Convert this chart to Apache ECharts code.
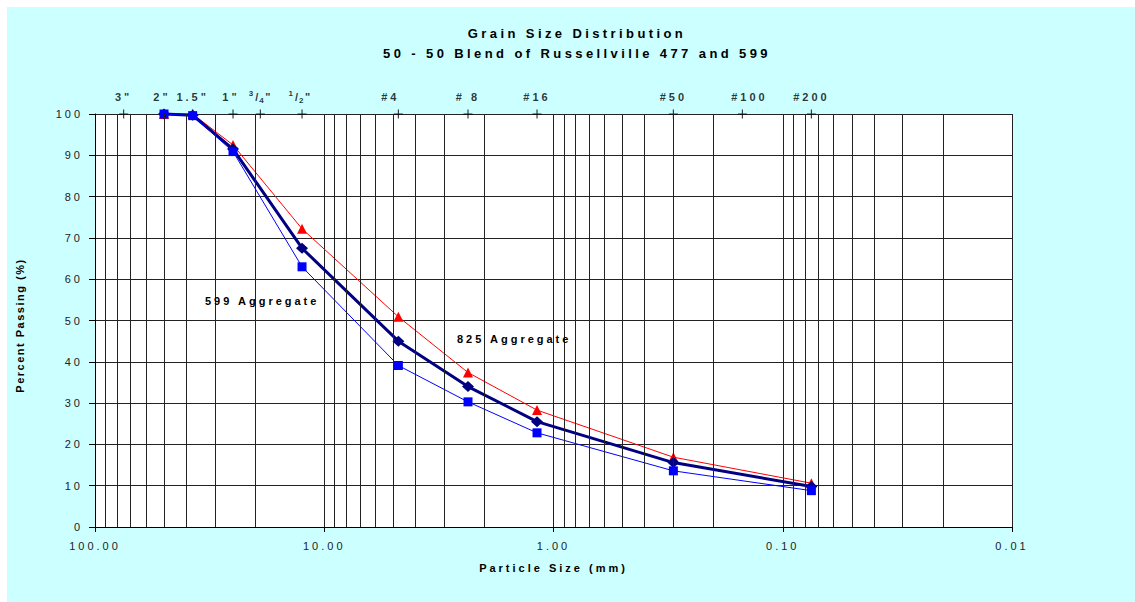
<!DOCTYPE html>
<html>
<head>
<meta charset="utf-8">
<script src="https://cdn.jsdelivr.net/npm/echarts@6/dist/echarts.min.js"></script>
<style>
html,body{margin:0;padding:0;background:#fff;}
#chart{width:1135px;height:602px;}
</style>
</head>
<body>
<div id="chart"></div>
<script>
// ---- data ----
const sieveSizesMM = [75, 50, 37.5, 25, 19, 12.5, 4.75, 2.36, 1.18, 0.3, 0.15, 0.075];
const sieveLabels = ['3"', '2"', '1.5"', '1"', '3/4"', '1/2"', '#4', '# 8', '#16', '#50', '#100', '#200'];
const testSizesMM = [50, 37.5, 25, 12.5, 4.75, 2.36, 1.18, 0.3, 0.075];
const passing825 = [100, 100, 92.5, 72.2, 50.9, 37.4, 28.3, 16.9, 10.6];
const passing599 = [100, 99.6, 90.9, 63.0, 39.1, 30.3, 22.8, 13.6, 8.8];
const passingBlend = [100, 99.7, 91.5, 67.5, 45.0, 34.0, 25.5, 15.6, 9.8];
const minorGridMM = [90, 80, 70, 60, 50, 40, 30, 20,
                     9, 8, 7, 6, 5, 4, 3, 2,
                     0.9, 0.8, 0.7, 0.6, 0.5, 0.4, 0.3, 0.2,
                     0.09, 0.08, 0.07, 0.06, 0.05, 0.04, 0.03, 0.02];
const titleLines = ['Grain Size Distribution', '50 - 50 Blend of Russellville 477 and 599'];
const xAxisName = 'Particle Size (mm)';
const yAxisName = 'Percent Passing (%)';
const annotations = ['599 Aggregate', '825 Aggregate'];

// ---- chart ----
const FONT = '"Liberation Sans", Arial, sans-serif';
const GRID_COLOR = '#222';
const chart = echarts.init(document.getElementById('chart'), null, {renderer: 'svg'});

const labelNudge = {'#4': -8, '#100': 7, '2"': -2, '1"': -2, '1/2"': -2};

function sieveLabelFmt(s) {
  const m = /^(\d)\/(\d)(.*)$/.exec(s);
  if (m) return '{sup|' + m[1] + '}{sl|/}{sub|' + m[2] + '}{n|' + m[3] + '}';
  return '{n|' + s + '}';
}

function pairs(xs, ys) { return xs.map((x, i) => [x, ys[i]]); }

const option = {
  animation: false,
  backgroundColor: 'transparent',
  title: {
    text: titleLines.join('\n'),
    left: 577, top: 23, textAlign: 'center', padding: 0,
    textStyle: {fontFamily: FONT, fontSize: 13, fontWeight: 'bold', color: '#000', lineHeight: 20}
  },
  graphic: [
    {type: 'rect', z: -100, silent: true, shape: {x: 7, y: 7, width: 1128, height: 595}, style: {fill: '#CCFFFF'}},
    {type: 'text', z: 50, silent: true, style: {text: annotations[0], x: 205, y: 301, align: 'left', verticalAlign: 'middle', fontFamily: FONT, fontSize: 11, fontWeight: 'bold', fill: '#000'}},
    {type: 'text', z: 50, silent: true, style: {text: annotations[1], x: 457, y: 339, align: 'left', verticalAlign: 'middle', fontFamily: FONT, fontSize: 11, fontWeight: 'bold', fill: '#000'}}
  ],
  grid: {left: 95, right: 123, top: 114, bottom: 75, show: true, backgroundColor: '#fff', borderWidth: 0},
  xAxis: {
    type: 'log', logBase: 10, min: 0.01, max: 100, inverse: true, splitNumber: 4,
    name: xAxisName, nameLocation: 'middle', nameGap: 41,
    nameTextStyle: {fontFamily: FONT, fontSize: 11, fontWeight: 'bold', color: '#000', verticalAlign: 'middle'},
    axisLine: {show: true, lineStyle: {color: '#000', width: 1}},
    axisTick: {show: true, length: 5, lineStyle: {color: '#000'}},
    axisLabel: {margin: 13, fontFamily: FONT, fontSize: 11, color: '#222', formatter: v => Number(v).toFixed(2)},
    splitLine: {show: true, lineStyle: {color: GRID_COLOR, width: 1}},
    minorTick: {show: false}, minorSplitLine: {show: false}
  },
  yAxis: {
    type: 'value', min: 0, max: 100, interval: 10,
    name: yAxisName, nameLocation: 'middle', nameGap: 75,
    nameTextStyle: {fontFamily: FONT, fontSize: 11, fontWeight: 'bold', color: '#000', verticalAlign: 'middle', padding: [0, 10, 0, 0]},
    axisLine: {show: true, lineStyle: {color: '#000', width: 1}},
    axisTick: {show: true, length: 6, lineStyle: {color: '#000'}},
    axisLabel: {margin: 12, fontFamily: FONT, fontSize: 11, color: '#222'},
    splitLine: {show: true, lineStyle: {color: GRID_COLOR, width: 1}}
  },
  series: [
    {
      name: 'grid', type: 'line', data: [], z: 1, silent: true,
      markLine: {
        silent: true, symbol: ['none', 'none'], label: {show: false},
        lineStyle: {color: GRID_COLOR, width: 1, type: 'solid'},
        emphasis: {disabled: true},
        data: minorGridMM.map(v => ({xAxis: v}))
      }
    },
    {
      name: 'Sieves', type: 'scatter', z: 2, clip: false, silent: true,
      symbol: 'path://M3.5,0H4.5V3.5H8V4.5H4.5V8H3.5V4.5H0V3.5H3.5Z', symbolSize: 9,
      itemStyle: {color: '#000'},
      data: sieveSizesMM.map((s, i) => ({
        value: [s, 100],
        label: {offset: [labelNudge[sieveLabels[i]] || 0, 0]}
      })),
      label: {
        show: true, position: 'top', distance: 5,
        formatter: p => sieveLabelFmt(sieveLabels[p.dataIndex]),
        rich: {
          n: {fontFamily: FONT, fontSize: 11, fontWeight: 'bold', color: '#000', lineHeight: 15},
          sl: {fontFamily: FONT, fontSize: 11, fontWeight: 'bold', color: '#000', lineHeight: 15, padding: [0, 1, 0, 1]},
          sup: {fontFamily: FONT, fontSize: 8, fontWeight: 'bold', color: '#000', lineHeight: 9, verticalAlign: 'top', padding: [0, 1, 0, 0]},
          sub: {fontFamily: FONT, fontSize: 8, fontWeight: 'bold', color: '#000', lineHeight: 9, verticalAlign: 'bottom', padding: [0, 3, 0, 0]}
        }
      }
    },
    {
      name: '825 Aggregate', type: 'line', z: 3, clip: false,
      data: pairs(testSizesMM, passing825),
      symbol: 'triangle', symbolSize: 10,
      lineStyle: {color: '#FF0000', width: 1}, itemStyle: {color: '#FF0000'}
    },
    {
      name: '50 - 50 Blend', type: 'line', z: 3, clip: false,
      data: pairs(testSizesMM, passingBlend),
      symbol: 'diamond', symbolSize: [12, 11],
      lineStyle: {color: '#000080', width: 3}, itemStyle: {color: '#000080'}
    },
    {
      name: '599 Aggregate', type: 'line', z: 3, clip: false,
      data: pairs(testSizesMM, passing599),
      symbol: 'rect', symbolSize: 9,
      lineStyle: {color: '#0000FF', width: 1}, itemStyle: {color: '#0000FF'}
    }
  ]
};

chart.setOption(option);

function applySpacing() {
  document.querySelectorAll('#chart text').forEach(t => {
    const fs = parseFloat(getComputedStyle(t).fontSize) || 12;
    let ls = 3;
    if (fs >= 12.5) ls = 3.4;
    else if (fs <= 9) ls = 0;
    if (t.textContent === '/') ls = 0;
    if (t.textContent === yAxisName) ls = 1.5;
    t.setAttribute('letter-spacing', ls);
  });
}
applySpacing();
chart.on('rendered', applySpacing);
chart.on('finished', applySpacing);
</script>
</body>
</html>
